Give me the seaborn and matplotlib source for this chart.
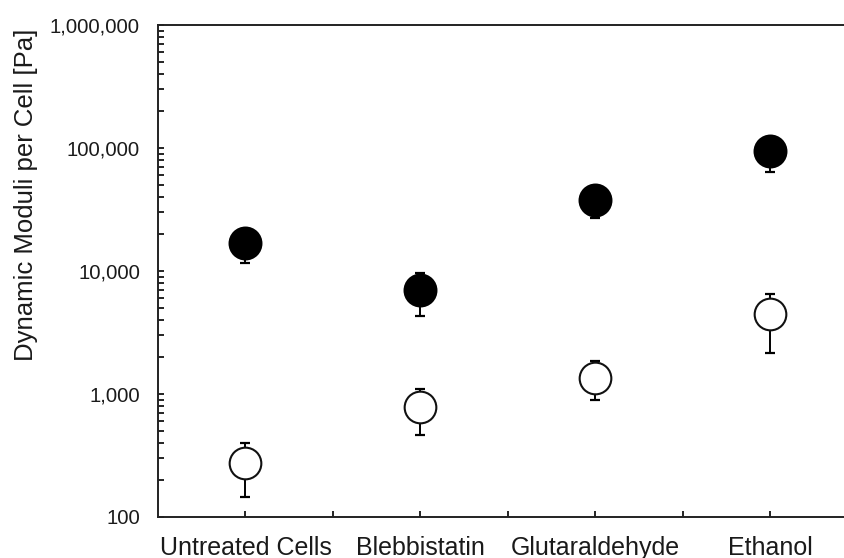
import matplotlib
matplotlib.use("Agg")
import matplotlib.pyplot as plt
import matplotlib.ticker as mticker
import numpy as np
import pandas as pd
import seaborn as sns

categories = ["Untreated Cells", "Blebbistatin", "Glutaraldehyde", "Ethanol"]
storage_mean = [16900, 7000, 37800, 94600]
storage_low = [11550, 4340, 27100, 64100]
storage_high = [21000, 9570, 45000, 110000]
loss_mean = [275, 790, 1350, 4500]
loss_low = [146, 464, 893, 2170]
loss_high = [402, 1104, 1853, 6500]
ytick_values = [100, 1000, 10000, 100000, 1000000]

sns.set_style("ticks")
plt.rcParams["font.family"] = ["Liberation Sans", "DejaVu Sans"]

fig = plt.figure(figsize=(8.45, 5.58), dpi=100)
ax = fig.add_axes([158 / 845, (558 - 517) / 558, 700 / 845, 492 / 558])

df = pd.DataFrame({
    "cat": categories * 2,
    "val": storage_mean + loss_mean,
    "kind": ["storage"] * 4 + ["loss"] * 4,
})

xpos = np.arange(len(categories))
for mean, lo, hi in [(storage_mean, storage_low, storage_high),
                     (loss_mean, loss_low, loss_high)]:
    m = np.array(mean, float)
    yerr = np.vstack([m - np.array(lo, float), np.array(hi, float) - m])
    ax.errorbar(xpos, m, yerr=yerr, fmt="none", ecolor="black",
                elinewidth=1.4, capsize=3.6, capthick=1.6, zorder=2)

sns.scatterplot(data=df[df.kind == "storage"], x="cat", y="val", ax=ax,
                color="black", edgecolor="black", s=540, linewidth=1.2,
                zorder=3, legend=False)
sns.scatterplot(data=df[df.kind == "loss"], x="cat", y="val", ax=ax,
                color="white", edgecolor="#111111", s=520, linewidth=1.5,
                zorder=3, legend=False)

ax.set_yscale("log")
ax.set_ylim(100, 1000000)
ax.set_xlim(-0.5, 3.5)
ax.set_yticks(ytick_values)
ax.yaxis.set_major_formatter(mticker.FuncFormatter(lambda v, p: f"{v:,.0f}"))
ax.yaxis.set_minor_locator(mticker.LogLocator(base=10, subs=np.arange(2, 10)))
ax.yaxis.set_minor_formatter(mticker.NullFormatter())

ax.set_xticks(xpos)
ax.set_xticklabels(categories)
ax.set_xticks(xpos[:-1] + 0.5, minor=True)

ax.tick_params(axis="y", which="both", direction="in", length=4.5, width=1.2,
               labelsize=14.7, pad=13, colors="black", labelcolor="#1a1a1a")
ax.tick_params(axis="x", which="both", direction="in", length=4.5, width=1.2,
               labelsize=18, pad=13.5, colors="black", labelcolor="#1a1a1a")

ax.set_xlabel("")
ax.set_ylabel("Dynamic Moduli per Cell [Pa]", fontsize=18.5, color="#1a1a1a")
ax.yaxis.set_label_coords(-0.171, 0.654)

for side in ["left", "bottom", "top"]:
    ax.spines[side].set_linewidth(1.4)
    ax.spines[side].set_color("#222222")
ax.spines["top"].set_visible(True)
ax.spines["right"].set_visible(False)

fig.savefig("out.png", dpi=100)
